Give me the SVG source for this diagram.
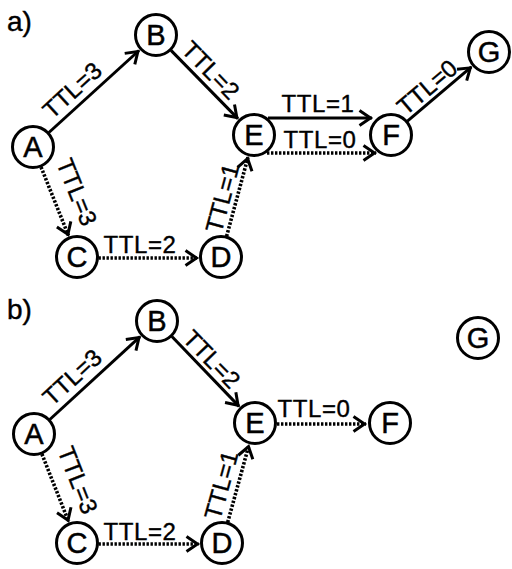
<svg xmlns="http://www.w3.org/2000/svg" width="512" height="569" viewBox="0 0 512 569">
<style>
.node circle{fill:#fff;stroke:#000;stroke-width:3}
.node text{font-family:"Liberation Sans",Arial,sans-serif;font-size:29px;text-anchor:middle;fill:#000;stroke:#000;stroke-width:0.5}
.solid{fill:none;stroke:#000;stroke-width:3;marker-end:url(#arr)}
.dot{fill:none;stroke:#000;stroke-width:3.6;stroke-dasharray:2.4 1.6;marker-end:url(#arr)}
.lbl{font-family:"Liberation Sans",Arial,sans-serif;font-size:24px;text-anchor:middle;fill:#000;stroke:#000;stroke-width:0.4;letter-spacing:0.6px}
.rl{font-family:"Liberation Sans",Arial,sans-serif;font-size:24px;text-anchor:middle;fill:#000;stroke:#000;stroke-width:0.4}
.pl{font-family:"Liberation Sans",Arial,sans-serif;font-size:28px;fill:#000;stroke:#000;stroke-width:0.4}
</style>
<defs>
<marker id="arr" markerUnits="userSpaceOnUse" markerWidth="30" markerHeight="30" viewBox="-16 -15 30 30" refX="1.5" refY="0" orient="auto" overflow="visible">
<path d="M-11,-7.5 L0,0 L-11,7.5" fill="none" stroke="#000" stroke-width="3"/>
</marker>
</defs>
<rect width="512" height="569" fill="#fff"/>
<text class="pl" x="7" y="31">a)</text>
<text class="pl" x="7" y="319">b)</text>
<g id="connectors">
<path class="solid" d="M48.9,132.5 L139.0,50.5"/>
<path class="solid" d="M171.0,50.4 L237.9,118.6"/>
<path class="dot" d="M41.0,167.0 L68.5,235.7"/>
<path class="dot" d="M98.5,258 L198,258"/>
<path class="dot" d="M226.6,236.3 L248.0,157.2"/>
<path class="solid" d="M268,118 L372,118"/>
<path class="dot" d="M267,153 L376,153"/>
<path class="solid" d="M407.4,121.1 L471.4,66.9"/>
<path class="solid" d="M49.8,419.5 L140.1,336.6"/>
<path class="solid" d="M171.9,336.5 L239.1,406.4"/>
<path class="dot" d="M41.9,454.0 L68.6,521.6"/>
<path class="dot" d="M98.5,544 L199,544"/>
<path class="dot" d="M227.7,522.3 L248.9,445.2"/>
<path class="dot" d="M277,424 L366,424"/>
</g>
<g id="labels">
<text class="rl" transform="translate(72,90) rotate(-42.3)" y="8.6">TTL=3</text>
<text class="rl" transform="translate(211,70) rotate(45.6)" y="8.6">TTL=2</text>
<text class="rl" transform="translate(77,192) rotate(68)" y="8.6">TTL=3</text>
<text class="rl" transform="translate(222,198) rotate(-74.9)" y="8.6">TTL=1</text>
<text class="rl" transform="translate(427,87) rotate(-40.3)" y="8.6">TTL=0</text>
<text class="lbl" x="318" y="112">TTL=1</text>
<text class="lbl" x="320" y="148">TTL=0</text>
<text class="lbl" x="140" y="253">TTL=2</text>
<text class="rl" transform="translate(72,377) rotate(-42.6)" y="8.6">TTL=3</text>
<text class="rl" transform="translate(212,359) rotate(46.1)" y="8.6">TTL=2</text>
<text class="rl" transform="translate(78,480) rotate(68.5)" y="8.6">TTL=3</text>
<text class="rl" transform="translate(221,485) rotate(-74.6)" y="8.6">TTL=1</text>
<text class="lbl" x="140" y="540">TTL=2</text>
<text class="lbl" x="314" y="417">TTL=0</text>
</g>
<g id="a-A" class="node"><circle cx="33" cy="147" r="20.5"/><text x="33" y="157.4">A</text></g>
<g id="a-B" class="node"><circle cx="156" cy="35" r="20.5"/><text x="156" y="45.4">B</text></g>
<g id="a-C" class="node"><circle cx="77" cy="257" r="20.5"/><text x="77" y="267.4">C</text></g>
<g id="a-D" class="node"><circle cx="221" cy="257" r="20.5"/><text x="221" y="267.4">D</text></g>
<g id="a-E" class="node"><circle cx="254" cy="135" r="20.5"/><text x="254" y="145.4">E</text></g>
<g id="a-F" class="node"><circle cx="391" cy="135" r="20.5"/><text x="391" y="145.4">F</text></g>
<g id="a-G" class="node"><circle cx="489" cy="52" r="20.5"/><text x="489" y="62.4">G</text></g>
<g id="b-A" class="node"><circle cx="34" cy="434" r="20.5"/><text x="34" y="444.4">A</text></g>
<g id="b-B" class="node"><circle cx="157" cy="321" r="20.5"/><text x="157" y="331.4">B</text></g>
<g id="b-C" class="node"><circle cx="77" cy="543" r="20.5"/><text x="77" y="553.4">C</text></g>
<g id="b-D" class="node"><circle cx="222" cy="543" r="20.5"/><text x="222" y="553.4">D</text></g>
<g id="b-E" class="node"><circle cx="255" cy="423" r="20.5"/><text x="255" y="433.4">E</text></g>
<g id="b-F" class="node"><circle cx="390" cy="423" r="20.5"/><text x="390" y="433.4">F</text></g>
<g id="b-G" class="node"><circle cx="478" cy="338" r="20.5"/><text x="478" y="348.4">G</text></g>
</svg>
